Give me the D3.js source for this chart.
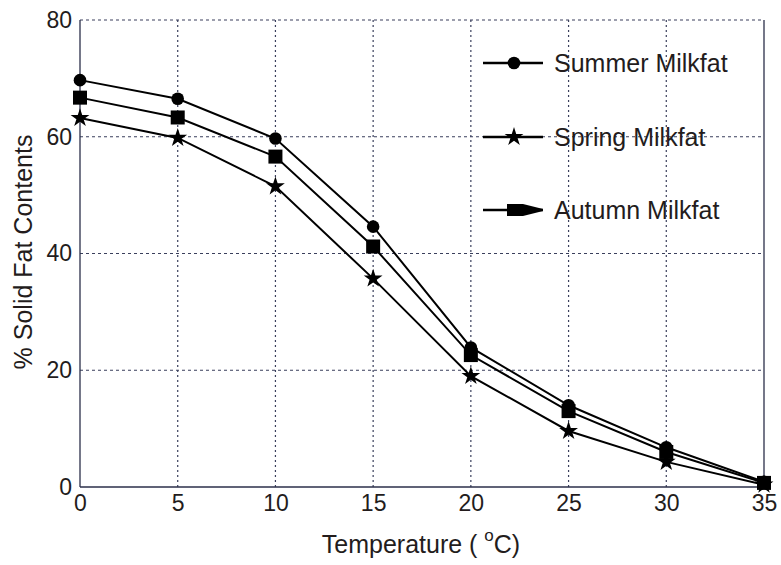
<!DOCTYPE html>
<html>
<head>
<meta charset="utf-8">
<script src="https://cdn.jsdelivr.net/npm/d3@7"></script>
<style>
  body { margin: 0; background: #fff; }
  text { font-family: "Liberation Sans", Arial, sans-serif; fill: #231c1c; }
</style>
</head>
<body>
<svg id="chart" width="781" height="565"></svg>
<script>
// Temperature (°C) and solid fat content (%) for three milkfat seasons
const temperatures = [0, 5, 10, 15, 20, 25, 30, 35];
const summerValues = [69.7, 66.5, 59.7, 44.6, 23.9, 14.0, 6.8, 0.9];
const springValues = [63.2, 59.8, 51.5, 35.7, 19.0, 9.6, 4.3, 0.4];
const autumnValues = [66.7, 63.3, 56.6, 41.2, 22.6, 13.0, 6.0, 0.7];
const seriesNames = ["Summer Milkfat", "Spring Milkfat", "Autumn Milkfat"];
const xTicks = [0, 5, 10, 15, 20, 25, 30, 35];
const yTicks = [0, 20, 40, 60, 80];

const series = [
  { name: seriesNames[0], values: summerValues, marker: "circle" },
  { name: seriesNames[1], values: springValues, marker: "star" },
  { name: seriesNames[2], values: autumnValues, marker: "square" }
];

const svg = d3.select("#chart");
const plotL = 80, plotR = 764, plotT = 20, plotB = 487;
const x = d3.scaleLinear().domain([0, 35]).range([plotL, plotR]);
const y = d3.scaleLinear().domain([0, 80]).range([plotB, plotT]);
const gridColor = "#3a3f5c";

// grid
const g = svg.append("g");
g.selectAll(".vg").data(xTicks.filter(t => t > 0 && t < 35)).enter().append("line")
  .attr("x1", d => x(d)).attr("x2", d => x(d)).attr("y1", plotT).attr("y2", plotB)
  .attr("stroke", gridColor).attr("stroke-width", 1.2).attr("stroke-dasharray", "2,3");
g.selectAll(".hg").data(yTicks.filter(t => t > 0)).enter().append("line")
  .attr("x1", plotL).attr("x2", plotR).attr("y1", d => y(d)).attr("y2", d => y(d))
  .attr("stroke", gridColor).attr("stroke-width", 1.2).attr("stroke-dasharray", "3,3");

// frame
svg.append("line").attr("x1", plotL).attr("x2", plotL).attr("y1", plotT).attr("y2", plotB)
  .attr("stroke", "#2b2f4a").attr("stroke-width", 1.3);
svg.append("line").attr("x1", plotL).attr("x2", plotR).attr("y1", plotB).attr("y2", plotB)
  .attr("stroke", "#2b2f4a").attr("stroke-width", 1.3);
svg.append("line").attr("x1", plotR).attr("x2", plotR).attr("y1", plotT).attr("y2", plotB)
  .attr("stroke", "#2b2f4a").attr("stroke-width", 1.3);

// axes (labels only, ticks drawn as grid)
const xAxis = svg.append("g").attr("transform", `translate(0,${plotB})`)
  .call(d3.axisBottom(x).tickValues(xTicks).tickSize(0).tickPadding(8));
const yAxis = svg.append("g").attr("transform", `translate(${plotL},0)`)
  .call(d3.axisLeft(y).tickValues(yTicks).tickSize(0).tickPadding(8));
[xAxis, yAxis].forEach(a => {
  a.select(".domain").remove();
  a.selectAll("text").style("font-size", "23px").style("font-family", "'Liberation Sans', Arial, sans-serif")
    .attr("fill", "#231c1c");
});

// axis titles
const xt = svg.append("text").attr("x", 421).attr("y", 553).attr("text-anchor", "middle")
  .style("font-size", "25px");
xt.append("tspan").text("Temperature ( ");
xt.append("tspan").text("o").attr("dy", -12).style("font-size", "17px");
xt.append("tspan").text("C)").attr("dy", 12);
svg.append("text").attr("transform", "translate(32,252) rotate(-90)")
  .attr("text-anchor", "middle").style("font-size", "25px").text("% Solid Fat Contents");

// lines
const line = d3.line().x((d, i) => x(temperatures[i])).y(d => y(d));
const starPath = d3.symbol().type(d3.symbolStar).size(110)();
function drawMarker(sel, type) {
  if (type === "circle") sel.append("circle").attr("r", 6.3).attr("fill", "#000");
  else if (type === "square") sel.append("rect").attr("x", -7).attr("y", -7).attr("width", 14).attr("height", 14).attr("fill", "#000");
  else sel.append("path").attr("d", starPath).attr("fill", "#000");
}
series.forEach(s => {
  svg.append("path").datum(s.values).attr("d", line)
    .attr("fill", "none").attr("stroke", "#000").attr("stroke-width", 2);
  svg.selectAll(null).data(s.values).enter().append("g")
    .attr("transform", (d, i) => `translate(${x(temperatures[i])},${y(d)})`)
    .each(function () { drawMarker(d3.select(this), s.marker); });
});

// legend
const legendY = [63, 137, 210];
series.forEach((s, i) => {
  const lg = svg.append("g").attr("transform", `translate(483,${legendY[i]})`);
  lg.append("line").attr("x1", 0).attr("x2", 60).attr("y1", 0).attr("y2", 0)
    .attr("stroke", "#000").attr("stroke-width", 2.4);
  if (s.marker === "square") {
    lg.append("path").attr("d", "M24,-6 L40,-6 L60,-1 L60,1 L40,6 L24,6 Z").attr("fill", "#000");
  } else {
    const m = lg.append("g").attr("transform", "translate(31,0)");
    drawMarker(m, s.marker);
  }
  lg.append("text").attr("x", 71).attr("y", 0).attr("dy", "0.36em")
    .style("font-size", "25px").text(s.name);
});
</script>
</body>
</html>
